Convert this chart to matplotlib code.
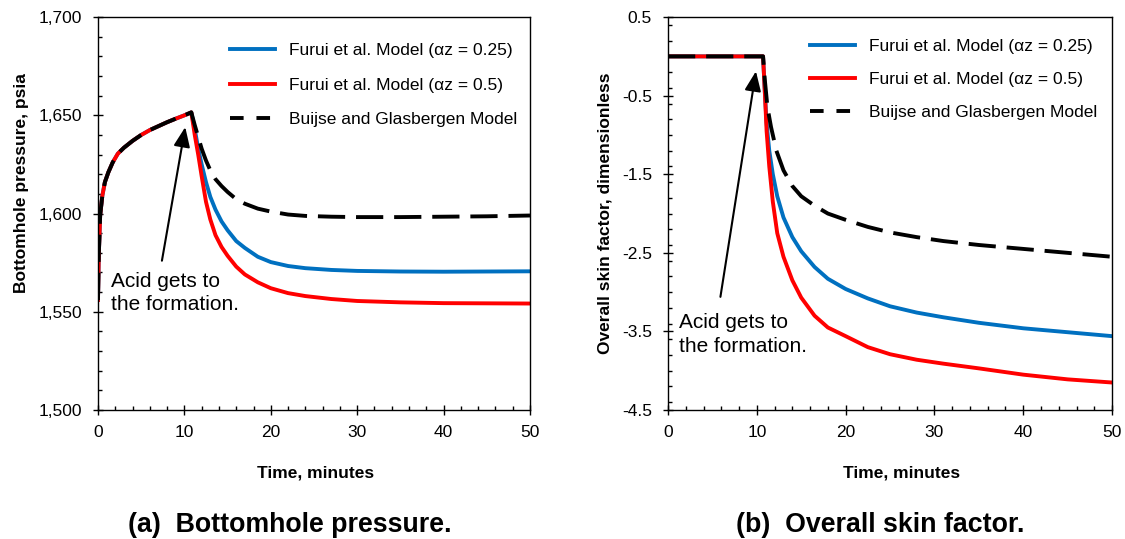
import numpy as np
import matplotlib
matplotlib.use('Agg')
import matplotlib.pyplot as plt
from matplotlib.ticker import FuncFormatter, MultipleLocator

plt.rcParams['font.family'] = ['Liberation Sans', 'DejaVu Sans']
plt.rcParams['axes.unicode_minus'] = False

# (a) bottomhole pressure, psia -- rise before acid reaches the formation (shared)
t_rise = [0, 0.1, 0.2, 0.25, 0.5, 0.8, 1.2, 1.7, 2.3, 3, 4, 5, 6, 7, 8, 9, 10, 10.8]
p_rise = [1556, 1580, 1592, 1599, 1609, 1616, 1621, 1626, 1630.5, 1633.5, 1637, 1640,
          1642.5, 1644.5, 1646.5, 1648.3, 1650, 1651.5]

# decline after t = 10.8 min
t_fall = [11.2, 11.6, 12.0, 12.5, 13.0, 13.6, 14.3, 15.0, 16.0, 17.0, 18.5, 20, 22, 24,
          27, 30, 35, 40, 45, 50]
p_blue = [1643, 1633, 1625, 1616, 1608.5, 1602, 1596, 1591.5, 1586, 1582.5, 1578, 1575.3,
          1573.3, 1572.2, 1571.3, 1570.8, 1570.5, 1570.4, 1570.5, 1570.6]
p_red = [1640, 1630, 1619, 1606, 1597, 1589, 1583, 1578.5, 1573, 1569, 1565, 1562, 1559.5,
         1558, 1556.5, 1555.5, 1554.8, 1554.4, 1554.3, 1554.2]
p_black = [1645, 1639, 1633, 1627, 1622, 1617.5, 1614, 1611, 1607.3, 1605, 1602.5, 1601,
           1599.5, 1598.8, 1598.4, 1598.2, 1598.2, 1598.4, 1598.6, 1599]

# (b) overall skin factor
t_flat = [0, 10.7]
s_flat = [0, 0]
t_skin = [10.9, 11.1, 11.4, 11.8, 12.3, 13.0, 14.0, 15.0, 16.5, 18.0, 20, 22.5, 25, 28,
          31, 35, 40, 45, 50]
t_skin_blk = [10.9, 11.2, 11.6, 12.2, 13.0, 14.0, 15.0, 16.5, 18.0, 20, 22.5, 25, 28, 31,
              35, 40, 45, 50]
s_blue = [-0.45, -0.85, -1.2, -1.5, -1.78, -2.05, -2.3, -2.48, -2.68, -2.83, -2.96, -3.08,
          -3.18, -3.26, -3.32, -3.39, -3.46, -3.51, -3.56]
s_red = [-0.45, -0.95, -1.4, -1.85, -2.25, -2.55, -2.85, -3.07, -3.3, -3.45, -3.56, -3.7,
         -3.79, -3.86, -3.91, -3.97, -4.05, -4.11, -4.15]
s_black = [-0.3, -0.65, -0.9, -1.2, -1.45, -1.65, -1.78, -1.9, -2.0, -2.08, -2.17, -2.24,
           -2.3, -2.35, -2.4, -2.45, -2.5, -2.55]

labels = ['Furui et al. Model (\u03b1z = 0.25)', 'Furui et al. Model (\u03b1z = 0.5)',
          'Buijse and Glasbergen Model']
p_ticks = [1500, 1550, 1600, 1650, 1700]
s_ticks = [-4.5, -3.5, -2.5, -1.5, -0.5, 0.5]
t_ticks = [0, 10, 20, 30, 40, 50]

BLUE = '#0070C0'
RED = '#FF0000'
ARROW = dict(arrowstyle='-|>,head_length=0.6,head_width=0.25', lw=1.5, color='black',
             mutation_scale=20, shrinkA=0, shrinkB=0)


def style_axes(ax):
    ax.set_xlim(0, 50)
    ax.set_xticks(t_ticks)
    ax.xaxis.set_minor_locator(MultipleLocator(2))
    ax.tick_params(which='major', direction='inout', length=7, width=1, labelsize=12.5)
    ax.tick_params(axis='x', which='major', pad=7)
    ax.tick_params(axis='y', which='major', pad=8)
    ax.tick_params(which='minor', direction='in', length=3, width=1)
    for sp in ax.spines.values():
        sp.set_linewidth(1)
    ax.set_xlabel('Time, minutes', fontsize=12.5, fontweight='bold')
    ax.xaxis.set_label_coords(0.503, -0.14)


def add_legend(ax, anchor, spacing):
    leg = ax.legend(loc='upper left', bbox_to_anchor=anchor, frameon=False, fontsize=12.5,
                    handlelength=2.6, handletextpad=0.8, labelspacing=spacing,
                    borderaxespad=0, borderpad=0)
    leg.get_lines()[2].set_dashes([3.5, 3.3])


fig = plt.figure(figsize=(11.25, 5.39), dpi=100)
ax1 = fig.add_axes([0.0871, 0.2393, 0.384, 0.729])
ax2 = fig.add_axes([0.5938, 0.2393, 0.3947, 0.729])

# (a)
ax1.plot(t_rise + t_fall, p_rise + p_blue, color=BLUE, lw=2.8, label=labels[0])
ax1.plot(t_rise + t_fall, p_rise + p_red, color=RED, lw=2.8, label=labels[1])
ax1.plot(t_rise + t_fall, p_rise + p_black, color='black', lw=2.8, dashes=(7, 2.8),
         label=labels[2])
ax1.set_ylim(1500, 1700)
ax1.set_yticks(p_ticks)
ax1.yaxis.set_minor_locator(MultipleLocator(10))
ax1.yaxis.set_major_formatter(FuncFormatter(lambda v, p: f'{v:,.0f}'))
style_axes(ax1)
ax1.set_ylabel('Bottomhole pressure, psia', fontsize=12.5, fontweight='bold')
ax1.yaxis.set_label_coords(-0.159, 0.578)
add_legend(ax1, (0.3056, 0.934), 1.12)
ax1.annotate('', xy=(10.1, 1644), xytext=(7.4, 1576), arrowprops=ARROW)
ax1.text(1.55, 1570.5, 'Acid gets to\nthe formation.', fontsize=15, va='top', ha='left',
         linespacing=1.33)

# (b)
ax2.plot(t_flat + t_skin, s_flat + s_blue, color=BLUE, lw=2.8, label=labels[0])
ax2.plot(t_flat + t_skin, s_flat + s_red, color=RED, lw=2.8, label=labels[1])
ax2.plot(t_flat + t_skin_blk, s_flat + s_black, color='black', lw=2.8, dashes=(7, 2.8),
         label=labels[2])
ax2.set_ylim(-4.5, 0.5)
ax2.set_yticks(s_ticks)
ax2.yaxis.set_minor_locator(MultipleLocator(0.2))
ax2.yaxis.set_major_formatter(FuncFormatter(lambda v, p: f'{v:.1f}'))
style_axes(ax2)
ax2.xaxis.set_label_coords(0.525, -0.14)
ax2.set_ylabel('Overall skin factor, dimensionless', fontsize=12.5, fontweight='bold')
ax2.yaxis.set_label_coords(-0.124, 0.5)
add_legend(ax2, (0.32, 0.944), 1.03)
ax2.annotate('', xy=(9.9, -0.19), xytext=(5.9, -3.06), arrowprops=ARROW)
ax2.text(1.2, -3.26, 'Acid gets to\nthe formation.', fontsize=15, va='top', ha='left',
         linespacing=1.33)

fig.text(290 / 1125, 1 - 525 / 539, '(a)  Bottomhole pressure.', fontsize=19.3,
         fontweight='bold', ha='center', va='center')
fig.text(880 / 1125, 1 - 525 / 539, '(b)  Overall skin factor.', fontsize=19.3,
         fontweight='bold', ha='center', va='center')

fig.savefig('out.png', dpi=100)
